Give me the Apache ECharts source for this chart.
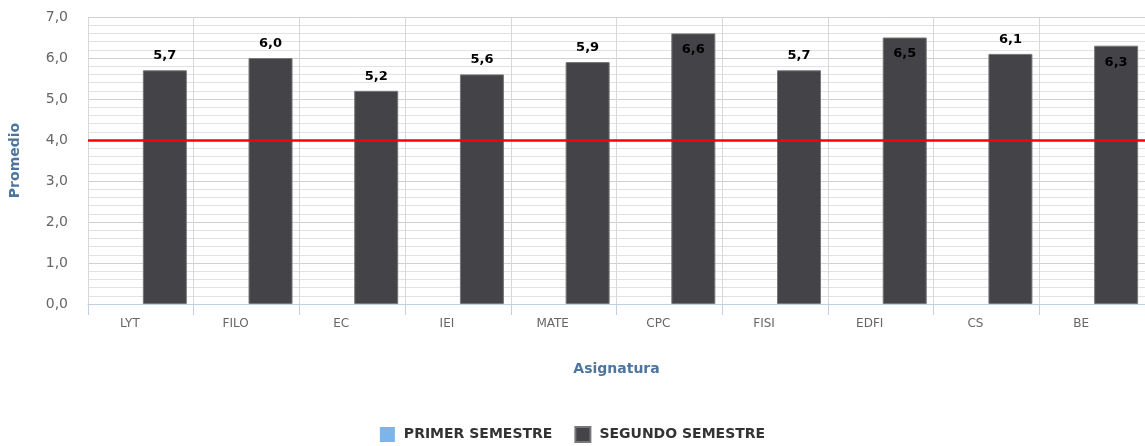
<!DOCTYPE html>
<html>
<head>
<meta charset="utf-8">
<script src="https://cdn.jsdelivr.net/npm/echarts@6/dist/echarts.min.js"></script>
<style>
  html, body { margin: 0; padding: 0; background: #fff; }
  #main { width: 1145px; height: 446px; }
</style>
</head>
<body>
<div id="main"></div>
<script>
// asignaturas
const categorias = ['LYT', 'FILO', 'EC', 'IEI', 'MATE', 'CPC', 'FISI', 'EDFI', 'CS', 'BE'];
// promedios por semestre (primer semestre sin datos)
const primerSemestre = [null, null, null, null, null, null, null, null, null, null];
const segundoSemestre = [5.7, 6.0, 5.2, 5.6, 5.9, 6.6, 5.7, 6.5, 6.1, 6.3];
const notaMinima = 4.0;

const fmt = v => v.toFixed(1).replace('.', ',');
const fuente = 'DejaVu Sans';

var myChart = echarts.init(document.getElementById('main'));

var option = {
  animation: false,
  textStyle: { fontFamily: fuente },
  grid: { left: 88, right: 0, top: 17, bottom: 142 },
  legend: {
    bottom: 3,
    left: 'center',
    padding: 0,
    itemWidth: 15,
    itemHeight: 15,
    itemGap: 22,
    icon: 'rect',
    textStyle: { fontFamily: fuente, fontSize: 14, fontWeight: 'bold', color: '#333', padding: [0, 0, 0, 4] },
    data: ['PRIMER SEMESTRE', 'SEGUNDO SEMESTRE']
  },
  xAxis: {
    type: 'category',
    data: categorias,
    name: 'Asignatura',
    nameLocation: 'middle',
    nameGap: 58,
    nameTextStyle: { fontFamily: fuente, fontSize: 14, fontWeight: 'bold', color: '#4d759e' },
    axisLine: { lineStyle: { color: '#c0d0e0', width: 1 } },
    axisTick: { show: true, length: 11, lineStyle: { color: '#c0d0e0' } },
    axisLabel: { color: '#666', fontSize: 12, margin: 14, padding: [0, 22, 0, 0] },
    splitLine: { show: true, lineStyle: { color: '#d8d8d8' } }
  },
  yAxis: {
    type: 'value',
    min: 0,
    max: 7,
    interval: 1,
    name: 'Promedio',
    nameLocation: 'middle',
    nameGap: 66,
    nameTextStyle: { fontFamily: fuente, fontSize: 14, fontWeight: 'bold', color: '#4d759e' },
    axisLabel: { color: '#666', fontSize: 14, margin: 20, formatter: v => fmt(v) },
    axisLine: { show: false },
    axisTick: { show: false },
    splitLine: { lineStyle: { color: '#d0d0d0' } },
    minorTick: { show: false, splitNumber: 5 },
    minorSplitLine: { show: true, lineStyle: { color: '#e2e2e2' } }
  },
  series: [
    {
      name: 'PRIMER SEMESTRE',
      type: 'bar',
      data: primerSemestre,
      barWidth: 44,
      barGap: '9%',
      itemStyle: { color: '#7cb5ec' }
    },
    {
      name: 'SEGUNDO SEMESTRE',
      type: 'bar',
      barWidth: 44,
      barGap: '9%',
      itemStyle: { color: '#434348', borderColor: '#777', borderWidth: 1 },
      data: segundoSemestre.map(v => ({
        value: v,
        label: {
          show: true,
          position: v > 6.2 ? 'insideTop' : 'top',
          distance: v > 6.2 ? 10 : 8,
          formatter: p => fmt(p.value),
          fontFamily: fuente,
          fontSize: 13,
          fontWeight: 'bold',
          color: '#000'
        }
      })),
      markLine: {
        silent: true,
        symbol: 'none',
        label: { show: false },
        lineStyle: { color: '#ff0000', width: 2.5, type: 'solid' },
        data: [{ yAxis: notaMinima }]
      }
    }
  ]
};
myChart.setOption(option);
</script>
</body>
</html>
